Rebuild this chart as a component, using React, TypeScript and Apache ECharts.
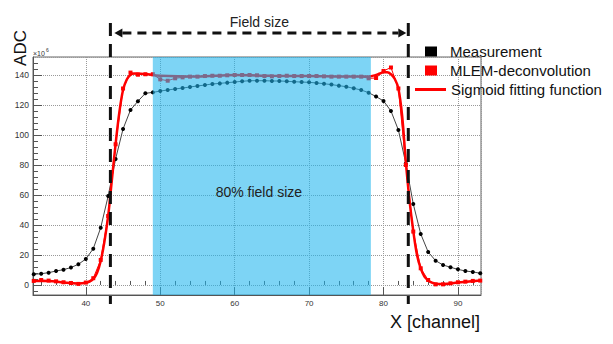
import React, { useEffect, useRef } from 'react';
import * as echarts from 'echarts';

const FONT = 'Liberation Sans, Arial, sans-serif';

const channels = [
  33, 34, 35, 36, 37, 38, 39, 40, 41, 42, 43, 44, 45, 46, 47, 48, 49, 50, 51, 52,
  53, 54, 55, 56, 57, 58, 59, 60, 61, 62, 63, 64, 65, 66, 67, 68, 69, 70, 71, 72,
  73, 74, 75, 76, 77, 78, 79, 80, 81, 82, 83, 84, 85, 86, 87, 88, 89, 90, 91, 92, 93,
];

const measurement = [
  7.1, 7.5, 8.2, 9.3, 10.2, 11.6, 13.8, 17.3, 24.2, 38.2, 59.3, 84, 104, 116.7, 122.5, 127.8, 128.4, 129.3, 130, 130.7,
  131.3, 132, 132.7, 133.3, 134, 134.4, 134.9, 135.3, 135.8, 136.2, 136.2, 136.2, 136, 136, 135.8, 135.5, 135.3, 135.1, 134.7, 134.2,
  133.6, 132.9, 132.2, 131.1, 130, 128.2, 125.6, 122.7, 116, 103.3, 81, 54, 34, 22, 16.2, 13.3, 11.8, 10.4, 9.3, 8.7, 7.8,
];

const mlem = [
  2.7, 3.3, 2.9, 2.4, 1.8, 1.3, 0.7, 1.6, 4.5, 16.7, 46, 93.8, 131, 141.6, 140.2, 140.5, 140.5, 137.1, 136.2, 137.8,
  138.4, 138.9, 138.9, 139.3, 139.5, 139.5, 139.8, 140, 140, 140, 139.8, 139.3, 139.1, 139.3, 139.5, 139.3, 139.3, 139.3, 139.3, 139.1,
  138.9, 138.9, 138.9, 138.9, 138.9, 137.8, 138, 142.7, 145, 131, 80, 35.6, 11.1, 3.3, 0.4, 0.4, 1.1, 1.8, 2.2, 2.7, 2.9,
];

const sigmoidX = [
  33, 35, 37, 39, 40, 40.5, 41, 41.5, 42, 42.5, 43, 43.5, 44, 44.5, 45, 45.5, 46, 46.5, 47, 48,
  50, 55, 60, 65, 70, 75, 78, 79, 79.5, 80, 80.5, 81, 81.5, 82, 82.5, 83, 83.5, 84, 84.5, 85,
  85.5, 86, 86.5, 87, 88, 90, 93,
];
const sigmoidY = [
  2.6, 2.6, 1.6, 1.0, 1.4, 2.2, 4.0, 8, 16, 29, 46, 70, 94, 115, 130, 137, 140.2, 141, 141, 140.6,
  139.5, 139, 140, 139.5, 139.3, 139, 139, 140, 141, 141.8, 141.8, 140.5, 137.5, 131, 113, 82, 56, 36, 20, 11,
  5.5, 3, 1.5, 0.8, 0.6, 1.6, 2.9,
];

const xMinorTicks = [34, 36, 38, 42, 44, 46, 48, 52, 54, 56, 58, 62, 64, 66, 68, 72, 74, 76, 78, 82, 84, 86, 88, 92];
const yMinorTicks = [-4, 4, 8, 12, 16, 24, 28, 32, 36, 44, 48, 52, 56, 64, 68, 72, 76, 84, 88, 92, 96, 104, 108, 112, 116, 124, 128, 132, 136, 144, 148];

const fieldEdges = [43.3, 83.33];
const eightyRegion = [49.0, 78.3];

const seriesNames = ['Measurement', 'MLEM-deconvolution', 'Sigmoid fitting function'];

export default function App() {
  const ref = useRef<HTMLDivElement>(null);
  useEffect(() => {
    const chart = echarts.init(ref.current!, null, { renderer: 'svg' });
    const xMin = 32.9, xMax = 93.1, yMin = -6.7, yMax = 152;
    const axisColor = '#555';
    const legendText = { fontSize: 15, fontFamily: FONT, color: '#111', padding: [0, 0, 0, 8] };
    const option: any = {
      animation: false,
      grid: { left: 33, top: 57, width: 448, height: 238, show: true, borderColor: '#666', borderWidth: 1 },
      xAxis: [
        {
          type: 'value', min: xMin, max: xMax, splitNumber: 6, position: 'bottom',
          axisLine: { show: true, onZero: false, lineStyle: { color: axisColor } },
          axisTick: { show: true, inside: true, length: 8, lineStyle: { color: axisColor } },
          axisLabel: { showMinLabel: false, showMaxLabel: false, fontSize: 8, color: '#333', margin: 4, fontFamily: FONT },
          splitLine: { show: true, lineStyle: { type: 'dotted', color: '#999' } },
        },
        {
          type: 'value', min: xMin, max: xMax, position: 'bottom',
          axisLine: { show: false },
          axisLabel: { show: false },
          splitLine: { show: false },
          axisTick: { show: true, inside: true, length: 4, customValues: xMinorTicks, lineStyle: { color: axisColor } },
        },
      ],
      yAxis: [
        {
          type: 'value', min: yMin, max: yMax, splitNumber: 8, position: 'left',
          axisLine: { show: true, onZero: false, lineStyle: { color: axisColor } },
          axisTick: { show: true, inside: true, length: 9, lineStyle: { color: axisColor } },
          axisLabel: { showMinLabel: false, showMaxLabel: false, fontSize: 8.5, color: '#333', margin: 4, fontFamily: FONT },
          splitLine: { show: true, lineStyle: { type: 'dotted', color: '#999' } },
        },
        {
          type: 'value', min: yMin, max: yMax, position: 'left',
          axisLine: { show: false },
          axisLabel: { show: false },
          splitLine: { show: false },
          axisTick: { show: true, inside: true, length: 5, customValues: yMinorTicks, lineStyle: { color: axisColor } },
        },
      ],
      legend: [
        {
          data: [{ name: seriesNames[0], icon: 'rect' }], left: 425, top: 44, padding: 0,
          itemWidth: 12, itemHeight: 10, selectedMode: false, textStyle: legendText,
        },
        {
          data: [{ name: seriesNames[1], icon: 'rect' }], left: 425, top: 63, padding: 0,
          itemWidth: 12, itemHeight: 10, selectedMode: false, textStyle: legendText,
        },
        {
          data: [{ name: seriesNames[2], icon: 'rect' }], left: 415, top: 82, padding: 0,
          itemWidth: 31, itemHeight: 3, selectedMode: false, textStyle: { ...legendText, padding: [0, 0, 0, 0] },
        },
      ],
      series: [
        {
          name: seriesNames[0], type: 'line', z: 3,
          data: channels.map((c, i) => [c, measurement[i]]),
          symbol: 'circle', symbolSize: 4,
          itemStyle: { color: '#000' },
          lineStyle: { color: '#444', width: 1 },
        },
        {
          name: seriesNames[1], type: 'line', z: 3,
          data: channels.map((c, i) => [c, mlem[i]]),
          symbol: 'rect', symbolSize: 4,
          itemStyle: { color: '#ff0000' },
          lineStyle: { color: '#ff0000', width: 1 },
        },
        {
          name: seriesNames[2], type: 'line', z: 4,
          data: sigmoidX.map((x, i) => [x, sigmoidY[i]]),
          showSymbol: false, symbol: 'none', smooth: 0.35,
          itemStyle: { color: '#ff0000' },
          lineStyle: { color: '#ff0000', width: 2.5 },
        },
        {
          name: 'overlay', type: 'line', z: 10, data: [],
          markArea: {
            silent: true, z: 20,
            itemStyle: { color: 'rgba(31,181,238,0.58)' },
            data: [[{ xAxis: eightyRegion[0] }, { xAxis: eightyRegion[1] }]],
          },
        },
      ],
    };
    chart.setOption(option);

    const xl = chart.convertToPixel({ xAxisIndex: 0 }, fieldEdges[0]) as number;
    const xr = chart.convertToPixel({ xAxisIndex: 0 }, fieldEdges[1]) as number;
    const xc = chart.convertToPixel({ xAxisIndex: 0 }, (eightyRegion[0] + eightyRegion[1]) / 2) as number;
    const arrowY = 33;
    chart.setOption({
      graphic: [
        { type: 'line', z: 100, shape: { x1: xl, y1: 23, x2: xl, y2: 304 }, style: { stroke: '#111', lineWidth: 3, lineDash: [13, 8] } },
        { type: 'line', z: 100, shape: { x1: xr, y1: 23, x2: xr, y2: 304 }, style: { stroke: '#111', lineWidth: 3, lineDash: [13, 8] } },
        { type: 'line', z: 100, shape: { x1: xl + 12, y1: arrowY, x2: xr - 10, y2: arrowY }, style: { stroke: '#111', lineWidth: 3, lineDash: [9, 6] } },
        { type: 'polygon', z: 100, shape: { points: [[xl + 4, arrowY], [xl + 12, arrowY - 4.5], [xl + 12, arrowY + 4.5]] }, style: { fill: '#111' } },
        { type: 'polygon', z: 100, shape: { points: [[xr - 2, arrowY], [xr - 10, arrowY - 4.5], [xr - 10, arrowY + 4.5]] }, style: { fill: '#111' } },
        { type: 'text', z: 100, x: (xl + xr) / 2, y: 22, style: { text: 'Field size', fontSize: 14, fontFamily: FONT, fill: '#222', align: 'center', verticalAlign: 'middle' } },
        { type: 'text', z: 100, x: xc - 3, y: 192, style: { text: '80% field size', fontSize: 14, fontFamily: FONT, fill: '#222', align: 'center', verticalAlign: 'middle' } },
        { type: 'text', z: 100, x: 20, y: 48, rotation: Math.PI / 2, style: { text: 'ADC', fontSize: 17, fontFamily: FONT, fill: '#111', align: 'center', verticalAlign: 'middle' } },
        { type: 'text', z: 100, x: 480, y: 322, style: { text: 'X [channel]', fontSize: 18, fontFamily: FONT, fill: '#111', align: 'right', verticalAlign: 'middle' } },
        { type: 'text', z: 100, x: 33, y: 53, style: { text: '×10', fontSize: 7, fontFamily: FONT, fill: '#333', align: 'left', verticalAlign: 'middle' } },
        { type: 'text', z: 100, x: 46, y: 50, style: { text: '6', fontSize: 5, fontFamily: FONT, fill: '#333', align: 'left', verticalAlign: 'middle' } },
      ],
    });
    return () => chart.dispose();
  }, []);
  return <div ref={ref} style={{ position: 'absolute', left: 0, top: 0, width: 613, height: 344 }} />;
}
